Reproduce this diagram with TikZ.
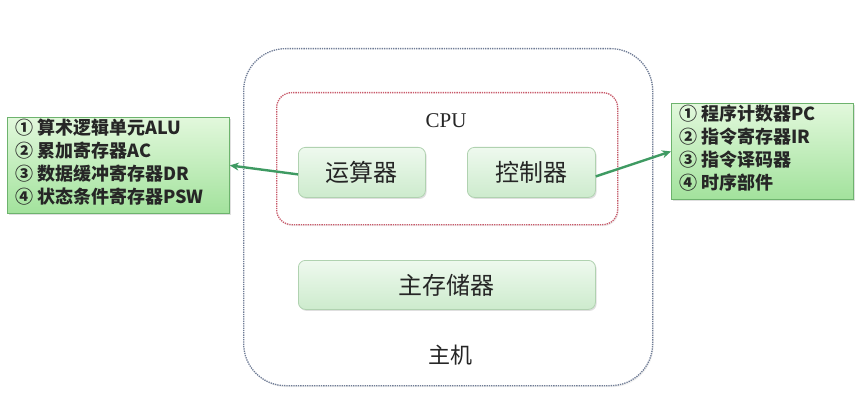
\documentclass[tikz,border=0pt]{standalone}
\usepackage{fontspec}
\setmainfont{Liberation Serif}
\newfontfamily\cjk{Noto Sans CJK SC}
\newfontfamily\cjkl{Noto Sans CJK SC}
\usetikzlibrary{shadows,arrows.meta}
\definecolor{hostline}{HTML}{6F7C96}
\definecolor{cpuline}{HTML}{C85A6A}
\definecolor{unitline}{HTML}{B0D2B0}
\definecolor{unittop}{HTML}{EEF9EE}
\definecolor{unitbot}{HTML}{CDEBCD}
\definecolor{notetop}{HTML}{E2F8DC}
\definecolor{notebot}{HTML}{A2E29C}
\definecolor{noteline}{HTML}{6DB36D}
\definecolor{arrowc}{HTML}{3E9A62}
\tikzset{
  x=1pt,y=-1pt,
  unitbox/.style={draw=unitline, line width=0.8pt, rounded corners=7pt,
    top color=unittop, bottom color=unitbot, anchor=north west,
    drop shadow={shadow xshift=1.2pt,shadow yshift=-1.5pt,opacity=0.25},
    font=\cjkl\fontsize{24}{26}\selectfont, text=black!85, inner sep=0pt},
  notebox/.style={draw=noteline, line width=0.8pt,
    top color=notetop, bottom color=notebot, anchor=north west,
    drop shadow={shadow xshift=1.2pt,shadow yshift=-1.5pt,opacity=0.25},
    inner sep=0pt},
  notetext/.style={anchor=north west, align=left, inner sep=0pt,
    font=\cjk\bfseries\fontsize{18}{23}\selectfont, text=black!85},
  link/.style={draw=arrowc, line width=2.4pt, -{Stealth[length=9pt,width=8pt]}},
  dotbox/.style={densely dotted, line width=1.3pt, anchor=north west, inner sep=0pt,
    drop shadow={shadow xshift=1pt,shadow yshift=-1.5pt,opacity=0.12}, fill=white},
}
\begin{document}
\begin{tikzpicture}
\useasboundingbox[fill=white] (0,0) rectangle (865,409);
% host
\node[dotbox, draw=hostline, rounded corners=42pt,
  minimum width=409pt, minimum height=337pt] (host) at (243,48) {};
% cpu
\node[dotbox, draw=cpuline, rounded corners=15pt,
  minimum width=341pt, minimum height=132pt] (cpu) at (276,92) {};
\node[font=\fontsize{21}{23}\selectfont, text=black!85] (cpulabel) at (446,121) {CPU};
\node[unitbox, minimum width=127pt, minimum height=50pt] (alu) at (298,147) {运算器};
\node[unitbox, minimum width=128pt, minimum height=50pt] (cu) at (467,147) {控制器};
\node[unitbox, minimum width=297pt, minimum height=49pt] (mem) at (298,260) {主存储器};
\node[font=\cjkl\fontsize{22}{24}\selectfont, text=black!85] (hostlabel) at (450,355) {主机};
% notes
\node[notebox, minimum width=222pt, minimum height=96pt] (left) at (7,117) {};
\node[notetext] (lefttext) at (15,119) {① 算术逻辑单元ALU\\② 累加寄存器AC\\③ 数据缓冲寄存器DR\\④ 状态条件寄存器PSW};
\node[notebox, minimum width=182pt, minimum height=96pt] (right) at (671,103) {};
\node[notetext] (righttext) at (679,105) {① 程序计数器PC\\② 指令寄存器IR\\③ 指令译码器\\④ 时序部件};
% arrows
\draw[link] ([yshift=-2pt]alu.west) -- (left.east);
\draw[link] ([yshift=-4pt]cu.east) -- (right.west);
\end{tikzpicture}
\end{document}
